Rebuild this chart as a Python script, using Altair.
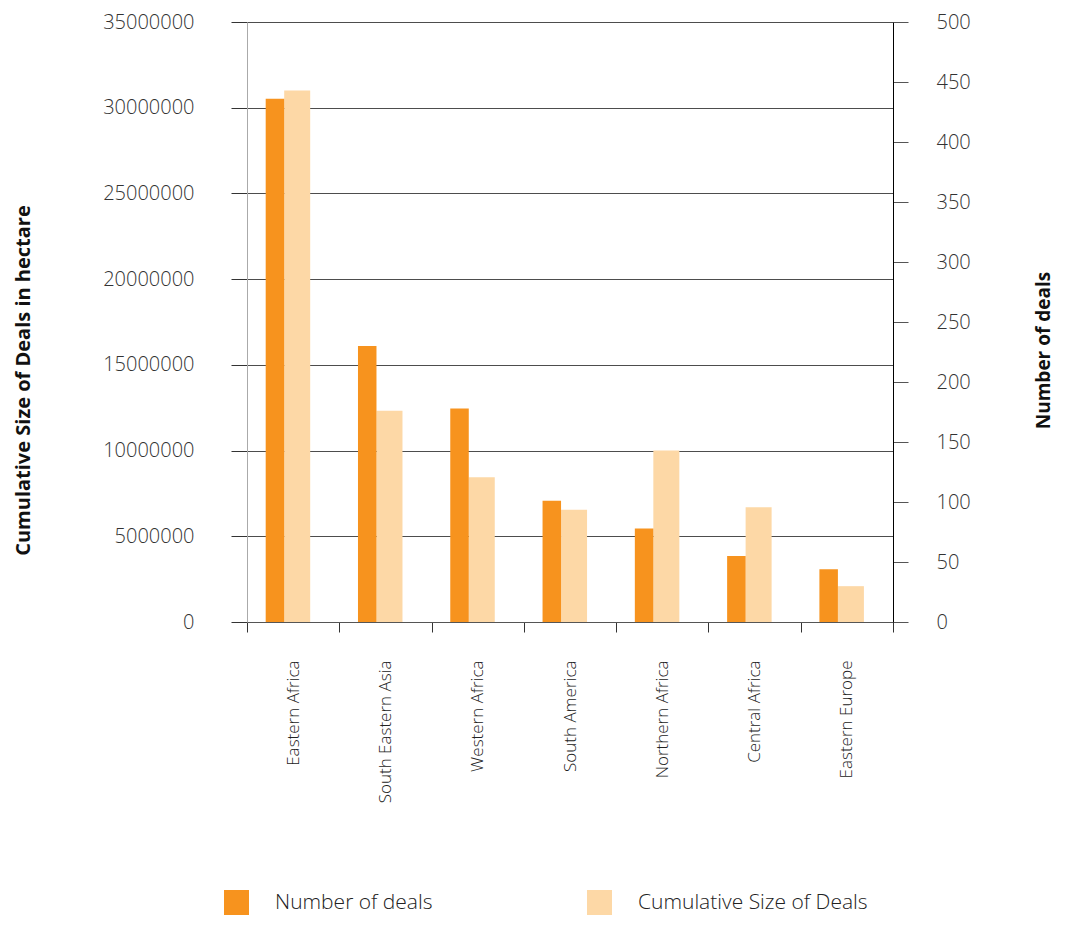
import altair as alt
import pandas as pd

regions = ["Eastern Africa", "South Eastern Asia", "Western Africa", "South America",
           "Northern Africa", "Central Africa", "Eastern Europe"]
deals = [436, 230, 178, 101, 78, 55, 44]
sizes = [31000000, 12330000, 8440000, 6550000, 10000000, 6700000, 2090000]
series_names = ["Number of deals", "Cumulative Size of Deals"]
series_colors = ["#F7931E", "#FDD8A6"]
left_ticks = [0, 5000000, 10000000, 15000000, 20000000, 25000000, 30000000, 35000000]
right_ticks = [0, 50, 100, 150, 200, 250, 300, 350, 400, 450, 500]

df = pd.DataFrame({"region": regions, "deals": deals, "size": sizes})

FONT = "Open Sans"
TXT = "#333333"

x_enc = alt.X(
    "region:N", sort=regions, title=None,
    scale=alt.Scale(paddingInner=0, paddingOuter=0),
    axis=alt.Axis(labelAngle=270, labelFontSize=17, labelPadding=28, tickSize=10,
                  tickBand="extent", tickColor="#333333", domainColor="#555555",
                  labelColor="#222222", labelFont=FONT, labelFontWeight=300,
                  labelLimit=300),
)

color_scale = alt.Scale(domain=series_names, range=series_colors)
legend = alt.Legend(
    title=None, orient="none", legendX=-23, legendY=868, direction="horizontal",
    symbolType="square", symbolSize=625, symbolStrokeWidth=0, symbolOpacity=1,
    labelFontSize=21, labelFont=FONT, labelFontWeight=300, labelColor="#222222",
    labelOffset=26, columnPadding=154, padding=0, symbolOffset=0, labelLimit=500,
)

base = alt.Chart(df)

deal_bars = base.transform_calculate(series="'Number of deals'").mark_bar(
    size=18.5, xOffset=-18.2
).encode(
    x=x_enc,
    y=alt.Y("deals:Q", scale=alt.Scale(domain=[0, 500], nice=False, zero=True),
            axis=alt.Axis(orient="right", values=right_ticks, grid=False, tickSize=15,
                          tickColor="#555555", domainColor="#000000", labelPadding=28,
                          labelFontSize=20, labelFont=FONT, labelFontWeight=300,
                          labelColor=TXT, title="Number of deals", titleFont=FONT,
                          titleFontSize=19, titleFontWeight="bold", titleColor="#111111",
                          titleAngle=270, titleX=150, titleY=328, titleBaseline="middle",
                          titleAlign="center")),
    color=alt.Color("series:N", scale=color_scale, legend=legend),
)

size_bars = base.transform_calculate(series="'Cumulative Size of Deals'").mark_bar(
    size=26, xOffset=4.05
).encode(
    x=x_enc,
    y=alt.Y("size:Q", scale=alt.Scale(domain=[0, 35000000], nice=False, zero=True),
            axis=alt.Axis(orient="left", values=left_ticks, format="d", grid=True,
                          gridColor="#4d4d4d", gridWidth=1, tickSize=16,
                          tickColor="#333333", domainColor="#aaaaaa", labelPadding=37,
                          labelFontSize=20, labelFont=FONT, labelFontWeight=300,
                          labelColor=TXT, title="Cumulative Size of Deals in hectare",
                          titleFont=FONT, titleFontSize=20, titleFontWeight="bold",
                          titleColor="#111111", titleAngle=270, titleX=-224,
                          titleY=358, titleBaseline="middle", titleAlign="center")),
    color=alt.Color("series:N", scale=color_scale, legend=legend),
)

chart = alt.layer(size_bars, deal_bars).resolve_scale(y="independent").properties(
    width=646, height=600,
    autosize=alt.AutoSizeParams(type="none"),
    padding={"left": 239, "top": 14, "right": 166, "bottom": 295},
).configure_view(stroke=None).configure(font=FONT)

chart.save("out.html", embed_options={"renderer": "svg", "actions": False})
